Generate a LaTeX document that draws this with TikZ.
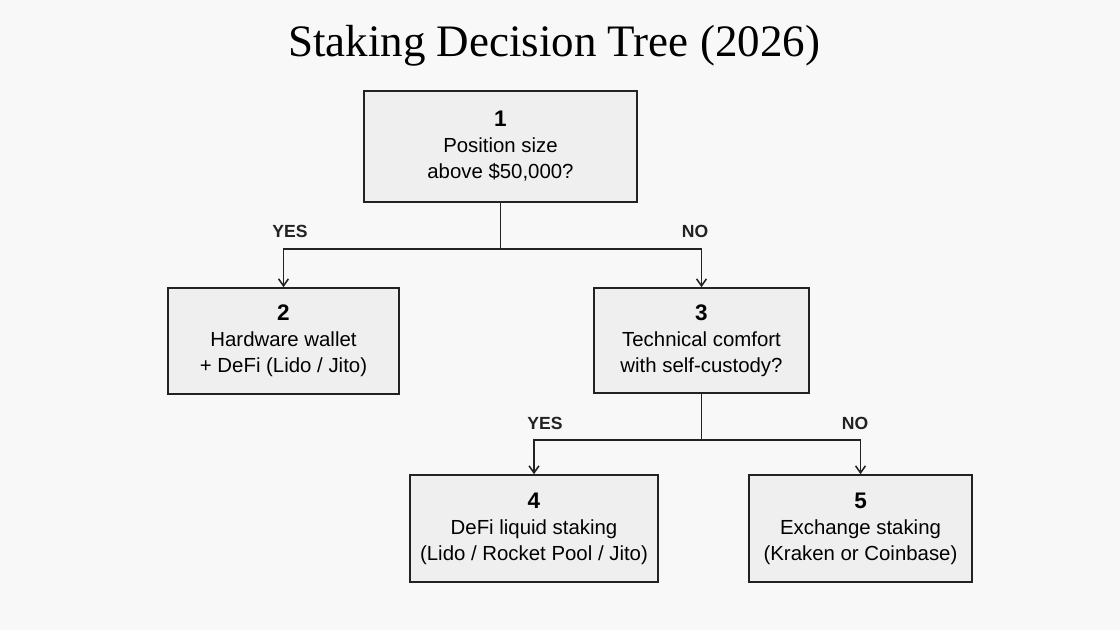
\documentclass[tikz,border=0pt]{standalone}
\usepackage{fontspec}
\setmainfont{Liberation Sans}
\newfontfamily\titlefont{Liberation Serif}
\usetikzlibrary{arrows.meta}
\usetikzlibrary{positioning}
\definecolor{pagebg}{HTML}{F8F8F8}
\definecolor{boxfill}{HTML}{EFEFEF}
\definecolor{inkline}{HTML}{222222}
\tikzset{decision/.style={draw=inkline, fill=boxfill, line width=1.1pt, align=center, inner sep=0pt,
		font=\fontsize{14.5}{18.5}\selectfont}}
\tikzset{branch/.style={draw=inkline, line width=1.1pt}}
\tikzset{answer/.style={font=\fontsize{12.5}{14}\selectfont\bfseries, text=inkline}}
\newcommand{\stepno}[1]{{\fontsize{16}{20}\selectfont\bfseries #1}}

\begin{document}
\begin{tikzpicture}[x=0.025cm, y=-0.025cm]
	% Page
	\fill[pagebg] (0,0) rectangle (1120,630);
	\useasboundingbox (0,0) rectangle (1120,630);

	\node (title) at (554,46) {\titlefont\fontsize{32}{36}\selectfont Staking Decision Tree (2026)};

	% Boxes
	\node[decision, minimum width=6.825cm, minimum height=2.775cm] (q1) at (500.5,146.5) {\stepno{1}\\ Position size\\ above \$50,000?};
	\node[decision, minimum width=5.775cm, minimum height=2.65cm] (a2) at (283.5,341) {\stepno{2}\\ Hardware wallet\\ + DeFi (Lido / Jito)};
	\node[decision, minimum width=5.375cm, minimum height=2.625cm] (q3) at (701.5,340.5) {\stepno{3}\\ Technical comfort\\ with self-custody?};
	\node[decision, minimum width=6.2cm, minimum height=2.675cm] (a4) at (534,528.5) {\stepno{4}\\ DeFi liquid staking\\ (Lido / Rocket Pool / Jito)};
	\node[decision, minimum width=5.575cm, minimum height=2.675cm] (a5) at (860.5,528.5) {\stepno{5}\\ Exchange staking\\ (Kraken or Coinbase)};

	\coordinate (split1) at (500.5,249);
	\coordinate (split3) at (701.5,440);

	% First split
	\draw[branch] (q1.south) -- (split1);
	\draw[branch, -{Straight Barb[length=5pt, width=7pt]}] (split1) -| (a2.north);
	\draw[branch, -{Straight Barb[length=5pt, width=7pt]}] (split1) -| (q3.north);
	\node[answer] (yes1) at (290,231) {YES};
	\node[answer] (no1) at (695,231) {NO};

	% Second split
	\draw[branch] (q3.south) -- (split3);
	\draw[branch, -{Straight Barb[length=5pt, width=7pt]}] (split3) -| (a4.north);
	\draw[branch, -{Straight Barb[length=5pt, width=7pt]}] (split3) -| (a5.north);
	\node[answer] (yes3) at (545,423) {YES};
	\node[answer] (no3) at (855,423) {NO};
\end{tikzpicture}
\end{document}
